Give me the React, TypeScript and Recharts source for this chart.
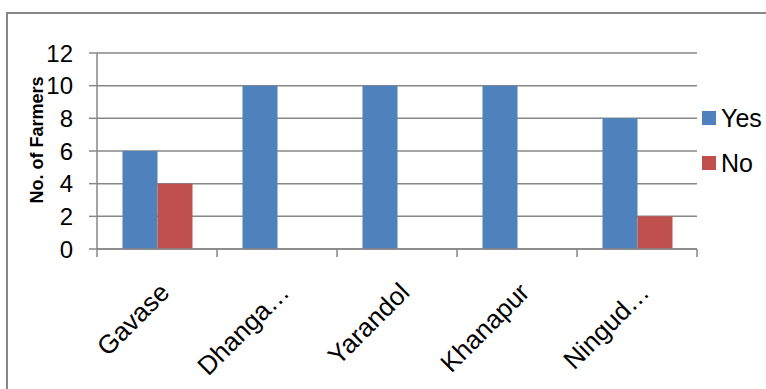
import React from 'react';
import { BarChart, Bar, XAxis, YAxis, CartesianGrid } from 'recharts';

// villages surveyed and farmer responses
const villages = ['Gavase', 'Dhanga…', 'Yarandol', 'Khanapur', 'Ningud…'];
const yesCounts = [6, 10, 10, 10, 8];
const noCounts = [4, 0, 0, 0, 2];
const yTicks = [0, 2, 4, 6, 8, 10, 12];

const series = [
    { key: 'yes', name: 'Yes', color: '#4F81BD' },
    { key: 'no', name: 'No', color: '#C0504D' },
];

const chartData = villages.map((v, i) => ({ village: v, yes: yesCounts[i], no: noCounts[i] }));

const W = 766;
const H = 389;
const PLOT_LEFT = 97;
const PLOT_RIGHT = 697;
const PLOT_TOP = 53;
const PLOT_BOTTOM = 249;
const BAND = (PLOT_RIGHT - PLOT_LEFT) / villages.length;
const AXIS_GRAY = '#878787';
const FONT = '"Liberation Sans", Arial, sans-serif';

// category label plus boundary tick marks (ticks sit between categories)
const VillageTick = (props: any) => {
    const { x, y, payload, index } = props;
    const left = x - BAND / 2;
    const isLast = index === villages.length - 1;
    const tx = x + 14;
    const ty = y + 45;
    return (
        <g>
            <line x1={left} y1={y} x2={left} y2={y + 8} stroke={AXIS_GRAY} strokeWidth={1.5} />
            {isLast && (
                <line x1={x + BAND / 2} y1={y} x2={x + BAND / 2} y2={y + 8} stroke={AXIS_GRAY} strokeWidth={1.5} />
            )}
            <text
                x={tx}
                y={ty}
                textAnchor="end"
                transform={`rotate(-45, ${tx}, ${ty})`}
                fontSize={26}
                fontFamily={FONT}
                fill="#000"
            >
                {payload.value}
            </text>
        </g>
    );
};

const App = () => {
    return (
        <div style={{ position: 'fixed', left: 0, top: 0, width: W, height: H, overflow: 'hidden', background: '#fff', fontFamily: FONT }}>
            {/* chart frame, only top and left edges fall inside the view */}
            <div style={{
                position: 'absolute', left: 6, top: 12, width: W + 20, height: H + 20,
                borderTop: `2px solid ${AXIS_GRAY}`, borderLeft: `2px solid ${AXIS_GRAY}`,
            }} />
            <div style={{ position: 'absolute', left: 0, top: 0 }}>
                <BarChart
                    width={W}
                    height={H}
                    data={chartData}
                    margin={{ top: PLOT_TOP, right: W - PLOT_RIGHT, left: 0, bottom: 0 }}
                    barGap={0}
                    barCategoryGap={25.5}
                >
                    <CartesianGrid vertical={false} stroke={AXIS_GRAY} strokeWidth={1.5} />
                    <XAxis
                        dataKey="village"
                        height={H - PLOT_BOTTOM}
                        axisLine={{ stroke: AXIS_GRAY, strokeWidth: 1.5 }}
                        tickLine={false}
                        tickSize={0}
                        tickMargin={0}
                        interval={0}
                        tick={<VillageTick />}
                    />
                    <YAxis
                        width={PLOT_LEFT}
                        domain={[0, 12]}
                        ticks={yTicks}
                        interval={0}
                        axisLine={{ stroke: AXIS_GRAY, strokeWidth: 1.5 }}
                        tickLine={{ stroke: AXIS_GRAY, strokeWidth: 1.5 }}
                        tickSize={8}
                        tickMargin={16}
                        tick={{ fontSize: 24, fill: '#000', fontFamily: FONT }}
                    />
                    {series.map((s) => (
                        <Bar key={s.key} dataKey={s.key} name={s.name} fill={s.color} isAnimationActive={false} />
                    ))}
                </BarChart>
            </div>
            {/* axis title */}
            <div style={{
                position: 'absolute', left: 37, top: 140, transform: 'translate(-50%, -50%) rotate(-90deg)',
                whiteSpace: 'nowrap', fontWeight: 'bold', fontSize: 18, lineHeight: 1, color: '#000',
            }}>
                No. of Farmers
            </div>
            {/* legend */}
            <div style={{ position: 'absolute', left: 702, top: 95.5 }}>
                {series.map((s) => (
                    <div key={s.key} style={{ display: 'flex', alignItems: 'center', height: 45 }}>
                        <span style={{ display: 'inline-block', width: 14, height: 14, background: s.color, marginRight: 5 }} />
                        <span style={{ fontSize: 25, color: '#000', lineHeight: 1 }}>{s.name}</span>
                    </div>
                ))}
            </div>
        </div>
    );
};

export default App;
